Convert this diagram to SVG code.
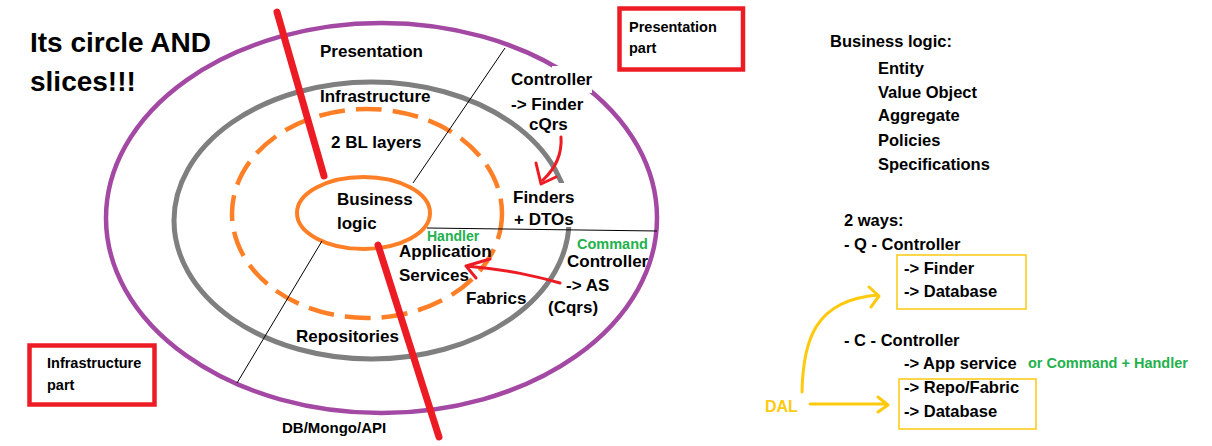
<svg xmlns="http://www.w3.org/2000/svg" width="1212" height="446" viewBox="0 0 1212 446">
<style>
text{font-family:"Liberation Sans",Arial,sans-serif;font-weight:bold;fill:#000}
.l{font-size:17px}
.r{font-size:16.5px}
.s{font-size:14.5px}
.g{fill:#22b14c;font-size:14.5px}
.y{fill:#ffc90e;font-size:16px}
.mask{fill:#fff;stroke:none}
.thin{stroke:#000;stroke-width:1;fill:none}
.red{stroke:#ed1c24;fill:none;stroke-linecap:round}
.gold{stroke:#ffc90e;fill:none;stroke-width:3;stroke-linecap:round;stroke-linejoin:round}
</style>
<rect width="1212" height="446" fill="#fff"/>
<g id="title"><text x="30" y="52" style="font-size:28px">Its circle AND</text><text x="30" y="91" style="font-size:28px">slices!!!</text></g>
<g id="rings">
<ellipse id="outer-ring" cx="381.5" cy="218" rx="275.5" ry="195" fill="none" stroke="#a349a4" stroke-width="4.5"/>
<ellipse id="middle-ring" cx="371.5" cy="220.5" rx="197.5" ry="138.5" fill="none" stroke="#7f7f7f" stroke-width="5"/>
<ellipse id="bl-layers-ring" cx="367" cy="213.5" rx="135" ry="104.5" fill="none" stroke="#ff7f27" stroke-width="4.5" stroke-dasharray="26 11"/>
<ellipse id="core-ring" cx="363.5" cy="213" rx="66.5" ry="36" fill="none" stroke="#ff7f27" stroke-width="4"/>
</g>
<rect class="mask" x="552" y="66" width="40" height="27"/>
<rect class="mask" x="555" y="183" width="22" height="44"/>
<g id="connectors">
<line class="thin" x1="505" y1="48" x2="413" y2="183"/>
<line class="thin" x1="322" y1="241" x2="237" y2="383"/>
<line class="thin" x1="427" y1="228" x2="657" y2="231"/>
<line class="red" x1="277" y1="12" x2="324" y2="176" stroke-width="7"/>
<line class="red" x1="378" y1="245" x2="439" y2="437" stroke-width="7"/>
<path class="red" stroke-width="3" stroke-linejoin="round" d="M561,137 C562,152 558,166 543,180 M536,163 L541,184 L556,177"/>
<path class="red" stroke-width="3" stroke-linejoin="round" d="M560,283 C535,276 510,270 466,266 M490,259 L466,266 L476,278"/>
<path class="gold" d="M810,404 L887,404 M878,397 L888,405 L878,412"/>
<path class="gold" d="M802,392 C803,340 815,300 878,295 M869,287 L879,296 L871,307"/>
</g>
<g id="presentation-part"><rect x="619.5" y="8.5" width="123.5" height="61" fill="none" stroke="#ed1c24" stroke-width="4.5"/><text class="s" x="629" y="32">Presentation</text><text class="s" x="629" y="53">part</text></g>
<g id="infrastructure-part"><rect x="29.5" y="345.5" width="125" height="59" fill="none" stroke="#ed1c24" stroke-width="4.5"/><text class="s" x="47" y="368">Infrastructure</text><text class="s" x="47" y="390">part</text></g>
<g id="layer-labels">
<text class="l" x="320" y="57">Presentation</text>
<text class="l" x="320" y="102">Infrastructure</text>
<text class="l" x="331" y="148">2 BL layers</text>
<text class="l" x="337" y="205">Business</text>
<text class="l" x="337" y="229">logic</text>
<text class="l" x="511" y="85">Controller</text>
<text class="l" x="511" y="110">-&gt; Finder</text>
<text class="l" x="529" y="130">cQrs</text>
<text class="l" x="513" y="203">Finders</text>
<text class="l" x="514" y="225">+ DTOs</text>
<text class="g" x="427" y="241" style="font-size:14px">Handler</text>
<text class="l" x="399" y="257">Application</text>
<text class="l" x="399" y="281">Services</text>
<text class="l" x="466" y="304">Fabrics</text>
<text class="g" x="577" y="249">Command</text>
<text class="l" x="567" y="267">Controller</text>
<text class="l" x="566" y="291">-&gt; AS</text>
<text class="l" x="548" y="313">(Cqrs)</text>
<text class="l" x="296" y="342">Repositories</text>
<text x="282" y="433" style="font-size:15px">DB/Mongo/API</text>
</g>
<g id="business-logic-list">
<text class="r" x="830" y="47">Business logic:</text>
<text class="r" x="878" y="74">Entity</text>
<text class="r" x="878" y="98">Value Object</text>
<text class="r" x="878" y="121">Aggregate</text>
<text class="r" x="878" y="146">Policies</text>
<text class="r" x="878" y="170">Specifications</text>
</g>
<g id="two-ways">
<text class="r" x="844" y="226">2 ways:</text>
<text class="r" x="844" y="250">- Q - Controller</text>
<text class="r" x="844" y="346">- C - Controller</text>
<text class="r" x="904" y="369">-&gt; App service</text>
<text class="g" x="1028" y="368">or Command + Handler</text>
</g>
<g id="query-box"><rect x="897" y="255" width="129" height="54" fill="none" stroke="#ffc90e" stroke-width="1.5"/><text class="r" x="904" y="274">-&gt; Finder</text><text class="r" x="904" y="297">-&gt; Database</text></g>
<g id="command-box"><rect x="899" y="379" width="137" height="50" fill="none" stroke="#ffc90e" stroke-width="1.5"/><text class="r" x="904" y="393">-&gt; Repo/Fabric</text><text class="r" x="904" y="417">-&gt; Database</text></g>
<g id="dal"><text class="y" x="765" y="412">DAL</text></g>
</svg>
